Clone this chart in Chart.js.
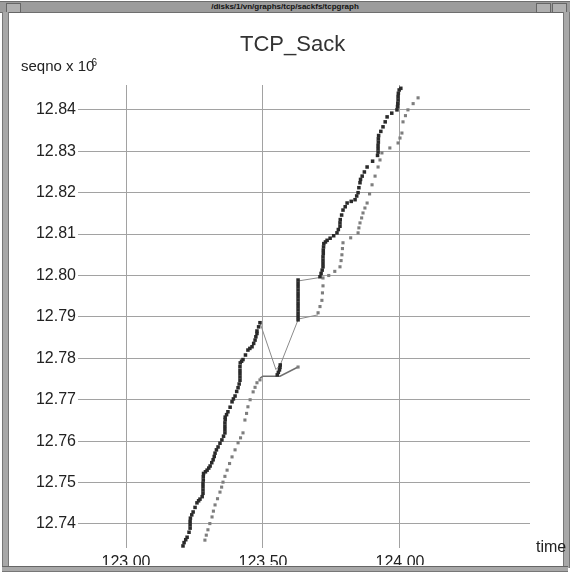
<!DOCTYPE html>
<html>
<head>
<meta charset="utf-8">
<script src="https://cdn.jsdelivr.net/npm/chart.js@4.4.0/dist/chart.umd.min.js"></script>
<style>
  html, body { margin: 0; padding: 0; background: #fff; }
  #win { position: relative; width: 570px; height: 573px; overflow: hidden; background: #fff;
         font-family: "Liberation Sans", Arial, sans-serif; }
  #plot { position: absolute; left: 0; top: 0; }
  .frame { position: absolute; background: #a8a8a8; }
  #bar { left: 0; top: 1px; width: 570px; height: 10px; background: #9c9c9c;
         border-top: 1px solid #6e6e6e; border-bottom: 1px solid #6e6e6e; }
  #bar span { position: absolute; left: 0; right: 0; top: 0; text-align: center;
              font-size: 8px; line-height: 10px; color: #111; font-weight: bold; }
  .btn { position: absolute; top: 1px; width: 13px; height: 8px; border: 1px solid #666; background: #b0b0b0; }
  #lft { left: 2px; top: 12px; width: 5px; height: 556px; border-left: 1px solid #777; border-right: 1px solid #777; }
  #rgt { left: 563px; top: 12px; width: 5px; height: 556px; border-left: 1px solid #777; border-right: 1px solid #777; }
  #bot { left: 2px; top: 566px; width: 566px; height: 4px; border-top: 1px solid #666; border-bottom: 1px solid #777; }
  .lbl { position: absolute; color: #222; white-space: nowrap; }
  #ttl { left: 240px; top: 31px; width: 100px; text-align: center; font-size: 22px; color: #333; }
  #ylab { left: 21px; top: 57px; font-size: 15px; }
  #ylab sup { font-size: 10px; margin-left: -3px; vertical-align: 5px; }
  #xlab { left: 536px; top: 538px; font-size: 16px; }
</style>
</head>
<body>
<div id="win">
  <canvas id="plot" width="570" height="573"></canvas>
  <div id="bar" class="frame"><span>/disks/1/vn/graphs/tcp/sackfs/tcpgraph</span>
    <div class="btn" style="left:6px"></div>
    <div class="btn" style="left:536px"></div>
    <div class="btn" style="left:552px"></div>
  </div>
  <div id="lft" class="frame"></div>
  <div id="rgt" class="frame"></div>
  <div id="bot" class="frame"></div>
  <div id="ttl" class="lbl">TCP_Sack</div>
  <div id="ylab" class="lbl">seqno x 10<sup>6</sup></div>
  <div id="xlab" class="lbl">time</div>
</div>
<script>
// Tick positions for the two axes
const xTickValues = [123.00, 123.50, 124.00];
const yTickValues = [12.74, 12.75, 12.76, 12.77, 12.78, 12.79, 12.80, 12.81, 12.82, 12.83, 12.84];

// Data segments sent before the loss: [time (s), seqno x 10^6]
const sentBeforeLoss = [
  [123.208,12.7347],[123.212,12.7355],[123.218,12.7362],[123.223,12.7368],
  [123.230,12.7380],[123.234,12.7390],[123.234,12.7398],[123.234,12.7406],[123.235,12.7414],
  [123.240,12.7422],[123.245,12.7429],[123.252,12.7440],[123.259,12.7451],
  [123.265,12.7456],[123.270,12.7460],
  [123.278,12.7466],[123.281,12.7474],[123.281,12.7482],[123.281,12.7490],[123.281,12.7498],
  [123.282,12.7506],[123.282,12.7514],[123.283,12.7522],
  [123.290,12.7526],[123.296,12.7530],[123.302,12.7535],[123.307,12.7540],
  [123.313,12.7548],[123.318,12.7555],[123.322,12.7563],[123.325,12.7571],
  [123.330,12.7579],[123.336,12.7586],[123.343,12.7595],[123.350,12.7603],
  [123.356,12.7612],[123.361,12.7620],[123.361,12.7628],[123.361,12.7636],[123.361,12.7644],
  [123.362,12.7652],[123.362,12.7658],
  [123.367,12.7664],[123.372,12.7671],[123.380,12.7682],[123.387,12.7695],
  [123.392,12.7702],[123.398,12.7709],[123.404,12.7720],[123.409,12.7729],
  [123.413,12.7738],[123.416,12.7747],[123.416,12.7755],[123.416,12.7763],[123.416,12.7771],
  [123.416,12.7780],[123.417,12.7789],
  [123.422,12.7793],[123.427,12.7797],[123.436,12.7808],[123.445,12.7820],
  [123.452,12.7824],[123.460,12.7828],[123.466,12.7836],[123.471,12.7844],
  [123.474,12.7852],[123.478,12.7860],[123.478,12.7866],[123.484,12.7876],[123.489,12.7886]
];

// Retransmissions during recovery
const retransmitted = [
  [123.552,12.7760],[123.556,12.7766],[123.560,12.7772],[123.562,12.7778],[123.563,12.7784]
];

// Data segments sent after recovery
const sentAfterLoss = [
  [123.628,12.7893],[123.628,12.7901],[123.628,12.7909],[123.628,12.7917],[123.628,12.7925],
  [123.628,12.7933],[123.628,12.7941],[123.628,12.7949],[123.628,12.7957],[123.628,12.7965],
  [123.628,12.7973],[123.628,12.7981],[123.628,12.7989],
  [123.708,12.7997],[123.712,12.8005],[123.716,12.8013],[123.719,12.8021],[123.719,12.8029],
  [123.719,12.8037],[123.719,12.8045],[123.720,12.8053],[123.720,12.8061],[123.721,12.8069],
  [123.722,12.8077],[123.728,12.8081],[123.734,12.8085],
  [123.745,12.8090],[123.758,12.8096],[123.770,12.8103],
  [123.775,12.8111],[123.781,12.8119],[123.781,12.8127],[123.782,12.8135],
  [123.787,12.8146],[123.792,12.8158],[123.800,12.8166],[123.807,12.8175],
  [123.822,12.8179],[123.836,12.8183],[123.842,12.8192],[123.847,12.8200],
  [123.850,12.8212],[123.854,12.8224],[123.856,12.8232],
  [123.862,12.8240],[123.870,12.8250],[123.880,12.8262],
  [123.900,12.8276],[123.918,12.8290],[123.920,12.8298],[123.920,12.8306],[123.920,12.8314],
  [123.921,12.8322],[123.921,12.8330],[123.922,12.8338],
  [123.930,12.8348],[123.938,12.8359],[123.946,12.8371],[123.953,12.8383],
  [123.970,12.8392],[123.989,12.8400],
  [123.991,12.8408],[123.992,12.8416],[123.993,12.8424],[123.993,12.8432],[123.994,12.8440],
  [123.997,12.8448],[124.003,12.8452]
];

// Acknowledgements received
const acks = [
  [123.288,12.7361],[123.293,12.7373],[123.299,12.7386],[123.306,12.7401],[123.314,12.7417],
  [123.319,12.7431],[123.325,12.7446],[123.334,12.7461],[123.343,12.7477],[123.349,12.7489],
  [123.354,12.7501],[123.361,12.7515],[123.369,12.7530],[123.378,12.7546],[123.387,12.7562],
  [123.398,12.7579],[123.409,12.7596],[123.418,12.7608],[123.427,12.7620],[123.434,12.7651],
  [123.440,12.7667],[123.445,12.7683],[123.453,12.7700],[123.464,12.7719],[123.471,12.7730],
  [123.478,12.7741],[123.489,12.7748],
  [123.628,12.7779],
  [123.701,12.7910],[123.708,12.7925],[123.715,12.7940],[123.717,12.7958],[123.719,12.7975],
  [123.719,12.7994],[123.740,12.8000],[123.762,12.8010],[123.781,12.8021],[123.785,12.8036],
  [123.788,12.8050],[123.790,12.8065],[123.792,12.8079],[123.820,12.8091],[123.847,12.8103],
  [123.850,12.8115],[123.854,12.8127],[123.860,12.8139],[123.865,12.8151],[123.872,12.8163],
  [123.880,12.8175],[123.889,12.8197],[123.898,12.8219],[123.909,12.8240],[123.920,12.8262],
  [123.927,12.8279],[123.934,12.8296],[123.963,12.8308],[123.993,12.8320],[124.000,12.8332],
  [124.007,12.8344],[124.011,12.8371],[124.020,12.8386],[124.029,12.8400],[124.048,12.8415],
  [124.066,12.8429]
];

// Thin connecting traces around the loss event
const lossTrace = [[123.489,12.7886],[123.547,12.7773],[123.563,12.7784],[123.628,12.7893]];
const ackPlateau = [[123.489,12.7752],[123.500,12.7757],[123.562,12.7757],[123.628,12.7779]];
const ackStepLow = [[123.630,12.7895],[123.701,12.7905]];
const ackStepHigh = [[123.630,12.7987],[123.706,12.7995]];

const pts = arr => arr.map(([x, y]) => ({ x, y }));

const dark = '#2a2a2a';
const grey = '#7e7e7e';
const traceStyle = { showLine: true, pointRadius: 0, borderColor: '#8a8a8a', borderWidth: 1, fill: false };
const tickFont = { family: '"Liberation Sans", Arial, sans-serif', size: 16 };

new Chart(document.getElementById('plot'), {
  type: 'scatter',
  data: {
    datasets: [
      { label: 'sent', data: pts(sentBeforeLoss), pointStyle: 'rect', pointRadius: 2.5,
        backgroundColor: dark, borderWidth: 0 },
      { label: 'retransmit', data: pts(retransmitted), pointStyle: 'rect', pointRadius: 2.5,
        backgroundColor: dark, borderWidth: 0 },
      { label: 'sent2', data: pts(sentAfterLoss), pointStyle: 'rect', pointRadius: 2.5,
        backgroundColor: dark, borderWidth: 0 },
      { label: 'acks', data: pts(acks), pointStyle: 'rect', pointRadius: 2.2,
        backgroundColor: grey, borderWidth: 0 },
      { label: 'lossTrace', data: pts(lossTrace), ...traceStyle },
      { label: 'ackPlateau', data: pts(ackPlateau), ...traceStyle, borderColor: '#6f6f6f', borderWidth: 1.5 },
      { label: 'ackStepLow', data: pts(ackStepLow), ...traceStyle },
      { label: 'ackStepHigh', data: pts(ackStepHigh), ...traceStyle }
    ]
  },
  options: {
    responsive: false,
    animation: false,
    devicePixelRatio: 1,
    layout: { padding: { left: 8, right: 40, top: 85, bottom: 8 } },
    plugins: { legend: { display: false }, tooltip: { enabled: false }, title: { display: false } },
    scales: {
      x: {
        type: 'linear',
        min: 122.8248,
        max: 124.4745,
        border: { display: false },
        grid: { color: '#a2a2a2', lineWidth: 1, drawTicks: false },
        afterBuildTicks: s => { s.ticks = xTickValues.map(v => ({ value: v })); },
        afterFit: s => { s.height = 17; },
        ticks: { padding: 5, maxRotation: 0, color: '#222', font: tickFont,
                 callback: v => Number(v).toFixed(2) }
      },
      y: {
        type: 'linear',
        min: 12.7342,
        max: 12.8460,
        border: { display: false },
        grid: { color: '#a2a2a2', lineWidth: 1, drawTicks: false },
        afterBuildTicks: s => { s.ticks = yTickValues.map(v => ({ value: v })); },
        afterFit: s => { s.width = 70; },
        ticks: { padding: 2, color: '#222', font: tickFont,
                 callback: v => Number(v).toFixed(2) }
      }
    }
  }
});
</script>
</body>
</html>
